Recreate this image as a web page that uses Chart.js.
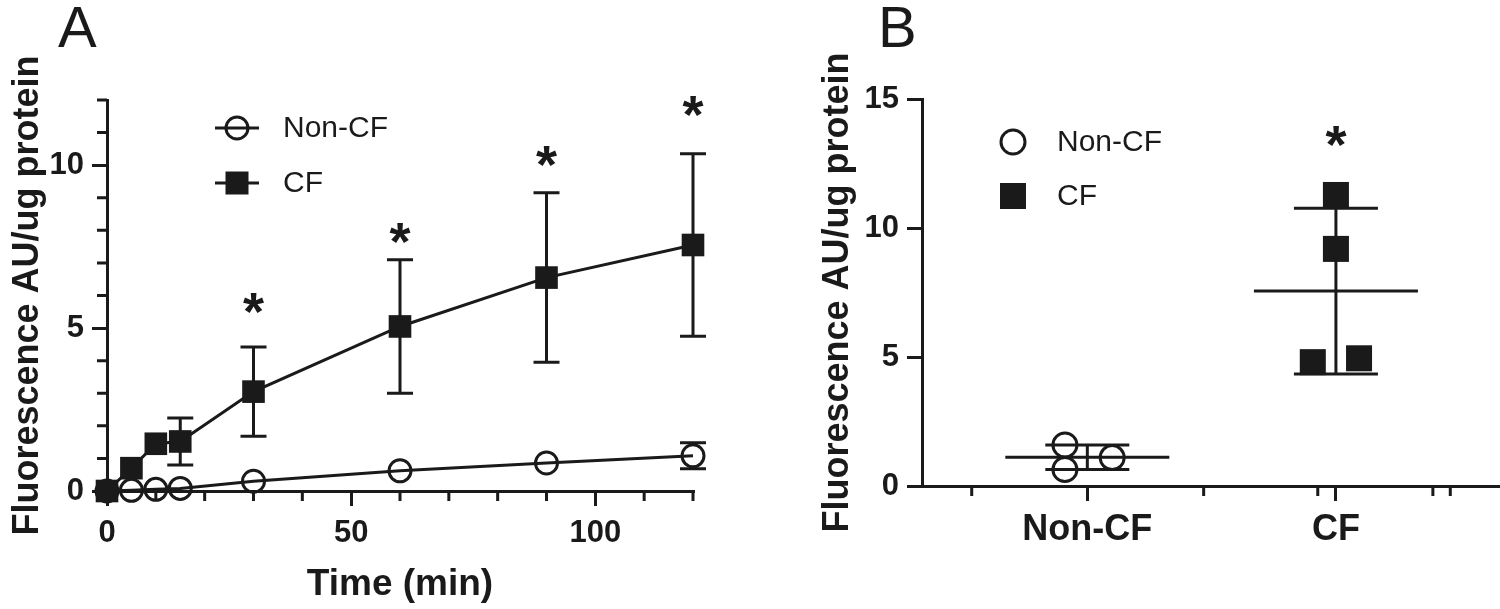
<!DOCTYPE html>
<html>
<head>
<meta charset="utf-8">
<script src="https://cdn.jsdelivr.net/npm/chart.js@4.4.1/dist/chart.umd.min.js"></script>
<style>
    body { margin: 0; background: #ffffff; }
    #pannello { position: relative; width: 1500px; height: 609px; overflow: hidden; }
    canvas { position: absolute; top: 0; }
    .lettera { position: absolute; top: -2px; font: 58px "Liberation Sans", Arial, sans-serif; line-height: 1; color: #1a1a1a; }
</style>
</head>
<body>
<div id="pannello">
    <canvas id="graficoA" width="780" height="609" style="left:0px"></canvas>
    <canvas id="graficoB" width="720" height="609" style="left:780px"></canvas>
    <div class="lettera" style="left:58px">A</div>
    <div class="lettera" style="left:878px">B</div>
</div>
<script>
// --- pannello A: cinetica ---
const tempi = [0, 5, 10, 15, 30, 60, 90, 120];
const mediaNonCF = [0, 0.02, 0.05, 0.08, 0.3, 0.62, 0.86, 1.08];
const erroreNonCF = [null, null, null, null, null, null, null, 0.4];
const mediaCF = [0, 0.7, 1.45, 1.52, 3.05, 5.05, 6.55, 7.55];
const erroreCF = [null, null, null, 0.72, 1.37, 2.05, 2.6, 2.8];
const asteriscoTempi = [30, 60, 90, 120];
const asteriscoAltezza = [5.74, 7.9, 10.28, 11.8];
const tickTempi = [0, 50, 100];
const tickTempiMinori = [10, 20, 30, 40, 60, 70, 80, 90, 110, 120];
const tickFluoA = [0, 5, 10];
const tickFluoAMinori = [1, 2, 3, 4, 6, 7, 8, 9, 11, 12];

// --- pannello B: singoli campioni ---
const gruppi = ["Non-CF", "CF"];
const puntiNonCF = [1.59, 0.64, 1.1];
const spostNonCF = [-0.09, -0.09, 0.1];   // scostamento orizzontale dal gruppo
const puntiCF = [11.28, 9.19, 4.8, 4.95];
const spostCF = [0, 0, -0.093, 0.093];
const asteriscoB = [13.55];
const tickFluoB = [0, 5, 10, 15];
const tickGruppiMinori = [-0.465, 0.468, 0.927, 1.39, 1.46];

const NERO = '#1a1a1a';
const FONT = '"Liberation Sans", Arial, sans-serif';

// tacche corte che Chart.js non sa fare
const taccheMinori = {
    id: 'taccheMinori',
    afterDraw(chart) {
        const cfg = chart.options.plugins.taccheMinori;
        if (!cfg) return;
        const ctx = chart.ctx;
        const area = chart.chartArea;
        ctx.save();
        ctx.strokeStyle = NERO;
        ctx.lineWidth = 3;
        ctx.beginPath();
        (cfg.x || []).forEach(v => {
            const px = chart.scales.x.getPixelForValue(v);
            ctx.moveTo(px, area.bottom);
            ctx.lineTo(px, area.bottom + cfg.lunghezza);
        });
        (cfg.y || []).forEach(v => {
            const py = chart.scales.y.getPixelForValue(v);
            ctx.moveTo(area.left, py);
            ctx.lineTo(area.left - cfg.lunghezza, py);
        });
        ctx.stroke();
        ctx.restore();
    }
};

// barre di errore (SD) sotto ai marcatori
const barreErrore = {
    id: 'barreErrore',
    beforeDatasetsDraw(chart) {
        const ctx = chart.ctx;
        const xS = chart.scales.x;
        const yS = chart.scales.y;
        ctx.save();
        ctx.strokeStyle = NERO;
        ctx.lineWidth = 3;
        chart.data.datasets.forEach(ds => {
            if (!ds.errore) return;
            // per i cerchi vuoti la barra parte dal bordo
            const r = ds.pointStyle === 'circle' ? ds.pointRadius + 1.5 : 0;
            ds.data.forEach((p, i) => {
                const e = ds.errore[i];
                if (e == null) return;
                const x = xS.getPixelForValue(p.x);
                const yc = yS.getPixelForValue(p.y);
                const yAlto = yS.getPixelForValue(p.y + e);
                const yBasso = yS.getPixelForValue(p.y - e);
                ctx.beginPath();
                ctx.moveTo(x, yAlto);
                ctx.lineTo(x, yc - r);
                ctx.moveTo(x, yc + r);
                ctx.lineTo(x, yBasso);
                ctx.moveTo(x - 13, yAlto);
                ctx.lineTo(x + 13, yAlto);
                ctx.moveTo(x - 13, yBasso);
                ctx.lineTo(x + 13, yBasso);
                ctx.stroke();
            });
        });
        ctx.restore();
    }
};

// media e SD dei singoli punti (pannello B)
const mediaDeviazione = {
    id: 'mediaDeviazione',
    afterDatasetsDraw(chart) {
        const ctx = chart.ctx;
        const xS = chart.scales.x;
        const yS = chart.scales.y;
        ctx.save();
        ctx.strokeStyle = NERO;
        ctx.lineWidth = 3;
        chart.data.datasets.forEach(ds => {
            const valori = ds.data.map(p => p.y);
            const media = valori.reduce((a, b) => a + b, 0) / valori.length;
            const sd = Math.sqrt(valori.reduce((a, v) => a + (v - media) ** 2, 0) / (valori.length - 1));
            const x = xS.getPixelForValue(ds.gruppo);
            const yM = yS.getPixelForValue(media);
            const yAlto = yS.getPixelForValue(media + sd);
            const yBasso = yS.getPixelForValue(media - sd);
            ctx.beginPath();
            ctx.moveTo(x - 82, yM);
            ctx.lineTo(x + 82, yM);
            ctx.moveTo(x, yAlto);
            ctx.lineTo(x, yBasso);
            ctx.moveTo(x - 42, yAlto);
            ctx.lineTo(x + 42, yAlto);
            ctx.moveTo(x - 42, yBasso);
            ctx.lineTo(x + 42, yBasso);
            ctx.stroke();
        });
        ctx.restore();
    }
};

// asterischi di significatività
const asterischi = {
    id: 'asterischi',
    afterDraw(chart) {
        const cfg = chart.options.plugins.asterischi;
        if (!cfg) return;
        const ctx = chart.ctx;
        ctx.save();
        ctx.fillStyle = NERO;
        ctx.font = 'bold 54px ' + FONT;
        ctx.textAlign = 'center';
        ctx.textBaseline = 'alphabetic';
        const m = ctx.measureText('*');
        const sposta = (m.actualBoundingBoxAscent - m.actualBoundingBoxDescent) / 2;
        cfg.x.forEach((v, i) => {
            const px = chart.scales.x.getPixelForValue(v);
            const py = chart.scales.y.getPixelForValue(cfg.y[i]);
            ctx.fillText('*', px, py + sposta);
        });
        ctx.restore();
    }
};

// legenda disegnata a mano
const legenda = {
    id: 'legenda',
    afterDraw(chart) {
        const cfg = chart.options.plugins.legenda;
        if (!cfg) return;
        const ctx = chart.ctx;
        ctx.save();
        ctx.strokeStyle = NERO;
        ctx.fillStyle = NERO;
        ctx.lineWidth = 3;
        ctx.font = '30px ' + FONT;
        ctx.textBaseline = 'middle';
        cfg.voci.forEach(v => {
            if (cfg.linea) {
                ctx.beginPath();
                ctx.moveTo(cfg.x - 22, v.y);
                ctx.lineTo(cfg.x + 22, v.y);
                ctx.stroke();
            }
            if (v.stile === 'circle') {
                ctx.beginPath();
                ctx.arc(cfg.x, v.y, v.r, 0, Math.PI * 2);
                ctx.stroke();
            } else {
                ctx.fillRect(cfg.x - v.r, v.y - v.r, v.r * 2, v.r * 2);
            }
            ctx.fillText(v.testo, cfg.xTesto, v.y + 1);
        });
        ctx.restore();
    }
};

function asseBase() {
    return {
        border: { display: true, width: 3, color: NERO },
        grid: { drawOnChartArea: false, drawTicks: true, tickLength: 15, tickWidth: 3, tickColor: NERO, lineWidth: 3, color: NERO },
        ticks: { font: { family: FONT, size: 31, weight: 'bold' }, color: NERO, maxRotation: 0, autoSkip: false }
    };
}

// niente spazio extra per le etichette ai lati
function fissaAltezza(h) {
    return s => { s.height = h; s.paddingLeft = 0; s.paddingRight = 0; };
}

// ---------- grafico A ----------
const ctxA = document.getElementById('graficoA').getContext('2d');
const xA = asseBase();
const yA = asseBase();
const graficoA = new Chart(ctxA, {
    type: 'line',
    data: {
        datasets: [
            {
                label: 'CF',
                data: tempi.map((t, i) => ({ x: t, y: mediaCF[i] })),
                errore: erroreCF,
                borderColor: NERO,
                borderWidth: 3,
                pointStyle: 'rect',
                pointRadius: 16,
                pointBackgroundColor: NERO,
                pointBorderWidth: 0,
                fill: false,
                tension: 0,
                clip: false
            },
            {
                label: 'Non-CF',
                data: tempi.map((t, i) => ({ x: t, y: mediaNonCF[i] })),
                errore: erroreNonCF,
                borderColor: NERO,
                borderWidth: 3,
                pointStyle: 'circle',
                pointRadius: 11,
                pointBorderWidth: 3,
                pointBorderColor: NERO,
                pointBackgroundColor: 'rgba(0,0,0,0)',
                fill: false,
                tension: 0,
                clip: false
            }
        ]
    },
    options: {
        responsive: false,
        devicePixelRatio: 1,
        animation: false,
        events: [],
        layout: { autoPadding: false, padding: { top: 100, right: 87, bottom: 0, left: 0 } },
        scales: {
            x: Object.assign(xA, {
                type: 'linear',
                position: 'bottom',
                min: 0,
                max: 120,
                afterBuildTicks: s => { s.ticks = tickTempi.map(v => ({ value: v })); },
                afterFit: fissaAltezza(118),
                ticks: Object.assign(xA.ticks, { padding: 9 }),
                title: { display: true, text: 'Time (min)', color: NERO, font: { family: FONT, size: 37, weight: 'bold' }, padding: { top: 0, bottom: 2 } }
            }),
            y: Object.assign(yA, {
                type: 'linear',
                min: 0,
                max: 12,
                afterBuildTicks: s => { s.ticks = tickFluoA.map(v => ({ value: v })); },
                afterFit: s => { s.width = 107; },
                ticks: Object.assign(yA.ticks, { padding: 8 }),
                title: { display: true, text: 'Fluorescence AU/ug protein', color: NERO, font: { family: FONT, size: 36, weight: 'bold' }, padding: { top: 6, bottom: 0 } }
            })
        },
        plugins: {
            legend: { display: false },
            tooltip: { enabled: false },
            taccheMinori: { x: tickTempiMinori, y: tickFluoAMinori, lunghezza: 10 },
            asterischi: { x: asteriscoTempi, y: asteriscoAltezza },
            legenda: {
                x: 237, xTesto: 283, linea: true,
                voci: [
                    { testo: 'Non-CF', stile: 'circle', r: 11, y: 128 },
                    { testo: 'CF', stile: 'rect', r: 11.5, y: 183 }
                ]
            }
        }
    },
    plugins: [taccheMinori, barreErrore, asterischi, legenda]
});

// ---------- grafico B ----------
const ctxB = document.getElementById('graficoB').getContext('2d');
const xB = asseBase();
const yB = asseBase();
const graficoB = new Chart(ctxB, {
    type: 'scatter',
    data: {
        datasets: [
            {
                label: 'CF',
                gruppo: 1,
                data: puntiCF.map((v, i) => ({ x: 1 + spostCF[i], y: v })),
                pointStyle: 'rect',
                pointRadius: 18.4,
                pointBackgroundColor: NERO,
                pointBorderWidth: 0,
                clip: false
            },
            {
                label: 'Non-CF',
                gruppo: 0,
                data: puntiNonCF.map((v, i) => ({ x: 0 + spostNonCF[i], y: v })),
                pointStyle: 'circle',
                pointRadius: 12,
                pointBorderWidth: 3,
                pointBorderColor: NERO,
                pointBackgroundColor: 'rgba(0,0,0,0)',
                clip: false
            }
        ]
    },
    options: {
        responsive: false,
        devicePixelRatio: 1,
        animation: false,
        events: [],
        // autoPadding toglierebbe spazio a destra per i marcatori
        layout: { autoPadding: false, padding: { top: 99, right: 0, bottom: 0, left: 0 } },
        scales: {
            x: Object.assign(xB, {
                type: 'linear',
                position: 'bottom',
                min: -0.665,
                max: 1.66,
                afterBuildTicks: s => { s.ticks = [0, 1].map(v => ({ value: v })); },
                afterFit: fissaAltezza(123),
                ticks: Object.assign(xB.ticks, {
                    padding: 7,
                    font: { family: FONT, size: 36, weight: 'bold' },
                    callback: v => gruppi[v]
                })
            }),
            y: Object.assign(yB, {
                type: 'linear',
                min: 0,
                max: 15,
                afterBuildTicks: s => { s.ticks = tickFluoB.map(v => ({ value: v })); },
                afterFit: s => { s.width = 142; },
                ticks: Object.assign(yB.ticks, { padding: 8 }),
                title: { display: true, text: 'Fluorescence AU/ug protein', color: NERO, font: { family: FONT, size: 36, weight: 'bold' }, padding: { top: 36, bottom: 0 } }
            })
        },
        plugins: {
            legend: { display: false },
            tooltip: { enabled: false },
            taccheMinori: { x: tickGruppiMinori, lunghezza: 10 },
            asterischi: { x: [1], y: asteriscoB },
            legenda: {
                x: 233, xTesto: 277, linea: false,
                voci: [
                    { testo: 'Non-CF', stile: 'circle', r: 12, y: 142 },
                    { testo: 'CF', stile: 'rect', r: 13, y: 196 }
                ]
            }
        }
    },
    plugins: [taccheMinori, mediaDeviazione, asterischi, legenda]
});
console.log("Grafici pronti");
</script>
</body>
</html>
